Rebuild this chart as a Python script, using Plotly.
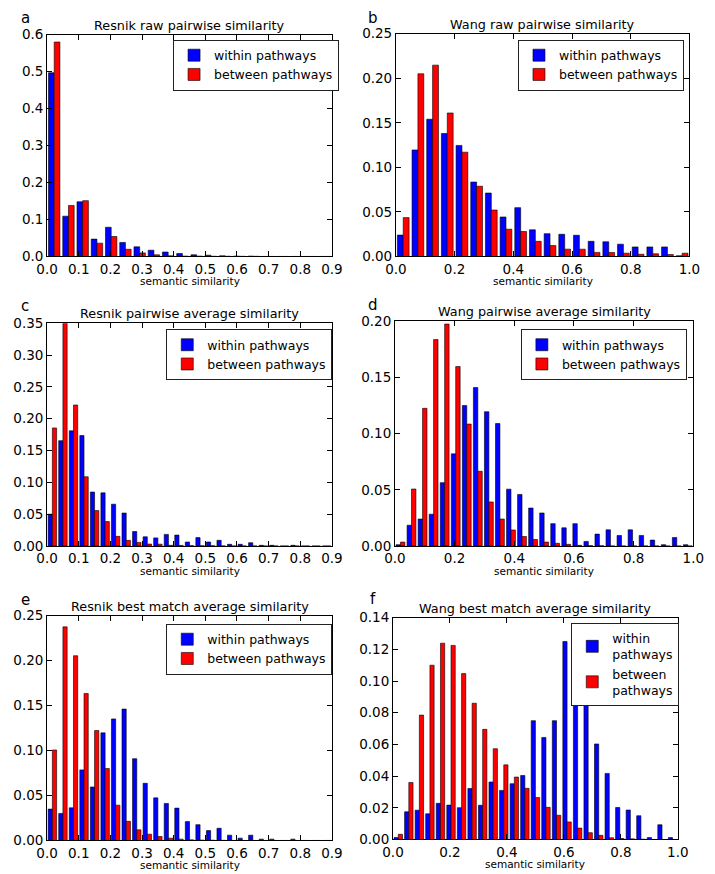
import numpy as np
import plotly.graph_objects as go

# ---------------- data ----------------
# a: Resnik raw pairwise similarity (20 bins, 0-0.9)
a_within = [0.497, 0.109, 0.148, 0.047, 0.079, 0.038, 0.026, 0.017, 0.012, 0.008,
            0.0045, 0.0035, 0.0018, 0.0009, 0.0009, 0, 0, 0, 0, 0]
a_between = [0.580, 0.138, 0.151, 0.036, 0.054, 0.0195, 0.0097, 0.0044, 0.0018, 0.0009,
             0.0009, 0.0005, 0.0005, 0.0004, 0.0003, 0, 0, 0, 0, 0]

# b: Wang raw pairwise similarity (20 bins, 0-1)
b_within = [0.024, 0.1195, 0.154, 0.138, 0.1246, 0.0835, 0.0712, 0.0443, 0.0548, 0.0299,
            0.0256, 0.0249, 0.0238, 0.017, 0.0165, 0.0138, 0.0107, 0.0107, 0.0107, 0.0008]
b_between = [0.0436, 0.205, 0.2147, 0.161, 0.117, 0.0788, 0.0521, 0.0306, 0.028, 0.017,
             0.0122, 0.0082, 0.0082, 0.0046, 0.0045, 0.0037, 0.0025, 0.003, 0.0022, 0.0037]

# c: Resnik pairwise average similarity (27 bins, 0-0.9)
c_within = [0.050, 0.1655, 0.181, 0.1735, 0.0848, 0.0835, 0.0657, 0.0518, 0.0228, 0.0145,
            0.0128, 0.0183, 0.0172, 0.0063, 0.0132, 0.0063, 0.0090, 0.0027, 0.0027, 0.0052,
            0.0011, 0.0011, 0, 0.0011, 0, 0, 0]
c_between = [0.1855, 0.350, 0.2215, 0.1088, 0.0557, 0.0384, 0.0152, 0.0089, 0.0057, 0.0031,
             0.0029, 0.0011, 0.0009, 0.0005, 0.0004, 0.0003, 0.0002, 0, 0, 0,
             0, 0, 0, 0, 0, 0, 0]

# d: Wang pairwise average similarity (27 bins, 0-1)
d_within = [0.0012, 0.0185, 0.024, 0.0283, 0.0564, 0.082, 0.125, 0.141, 0.1195, 0.109,
            0.0506, 0.0459, 0.0338, 0.0294, 0.0199, 0.0162, 0.0199, 0.0041, 0.0106, 0.0144,
            0.0094, 0.0144, 0.0094, 0.0053, 0.0012, 0.0076, 0.0012]
d_between = [0.0035, 0.0507, 0.1225, 0.1837, 0.1975, 0.1597, 0.1085, 0.0665, 0.0392, 0.0240,
             0.0143, 0.0085, 0.0058, 0.0035, 0.0024, 0.0015, 0.0006, 0.0003, 0.0002, 0,
             0, 0, 0, 0, 0, 0, 0]

# e: Resnik best match average similarity (27 bins, 0-0.9)
e_within = [0.0349, 0.0301, 0.0363, 0.0785, 0.0595, 0.1197, 0.1352, 0.1462, 0.091, 0.0636,
            0.0474, 0.0412, 0.036, 0.021, 0.0176, 0.011, 0.0136, 0.0059, 0.0026, 0.0059,
            0.0015, 0.0015, 0, 0.0015, 0, 0, 0]
e_between = [0.1007, 0.2376, 0.2055, 0.1635, 0.1223, 0.0800, 0.0393, 0.0213, 0.0118, 0.0070,
             0.0044, 0.0026, 0.0015, 0.0007, 0.0004, 0.0003, 0.0002, 0, 0, 0,
             0, 0, 0, 0, 0, 0, 0]

# f: Wang best match average similarity (27 bins, 0-1)
f_within = [0.0012, 0.0175, 0.0185, 0.0162, 0.0228, 0.0217, 0.0201, 0.0322, 0.0216, 0.0363,
            0.0310, 0.0352, 0.0404, 0.0750, 0.0644, 0.0750, 0.1250, 0.0887, 0.0899, 0.0603,
            0.0417, 0.0202, 0.0186, 0.0150, 0.0012, 0.0093, 0.0012]
f_between = [0.0033, 0.0360, 0.0785, 0.1100, 0.1239, 0.1225, 0.1047, 0.0860, 0.0695, 0.0573,
             0.0471, 0.0394, 0.0323, 0.0265, 0.0203, 0.0153, 0.0111, 0.0072, 0.0043, 0.0026,
             0.0011, 0.0006, 0.0004, 0.0002, 0, 0, 0]

titles = ["Resnik raw pairwise similarity", "Wang raw pairwise similarity",
          "Resnik pairwise average similarity", "Wang pairwise average similarity",
          "Resnik best match average similarity", "Wang best match average similarity"]
letters = ["a", "b", "c", "d", "e", "f"]
series_names = ["within pathways", "between pathways"]
series_names_wrapped = ["within<br>pathways", "between<br>pathways"]
xlabel = "semantic similarity"

x_ticks_09 = [0.0, 0.1, 0.2, 0.3, 0.4, 0.5, 0.6, 0.7, 0.8, 0.9]
x_ticks_10 = [0.0, 0.2, 0.4, 0.6, 0.8, 1.0]
y_ticks_a = [0.0, 0.1, 0.2, 0.3, 0.4, 0.5, 0.6]
y_ticks_b = [0.0, 0.05, 0.10, 0.15, 0.20, 0.25]
y_ticks_c = [0.0, 0.05, 0.10, 0.15, 0.20, 0.25, 0.30, 0.35]
y_ticks_d = [0.0, 0.05, 0.10, 0.15, 0.20]
y_ticks_e = [0.0, 0.05, 0.10, 0.15, 0.20, 0.25]
y_ticks_f = [0.0, 0.02, 0.04, 0.06, 0.08, 0.10, 0.12, 0.14]

# page is 715x874, but the browser's default body margin offsets the plot by 8px
OFF = 8
W, H = 715 - OFF, 874 - OFF
FONT = "DejaVu Sans"
TICK_SIZE = 13.5
TITLE_SIZE = 12.8
LEGEND_SIZE = 12.5
XLABEL_SIZE = 10.5


def fx(px):
    return (px - OFF) / W


def fy(py):
    return 1 - (py - OFF) / H


# layout in page-pixel boxes: (left, right, top, bottom)
panels = [
    dict(w=a_within, b=a_between, nb=20, xmax=0.9, xt=x_ticks_09, xf="%.1f", yt=y_ticks_a, yf="%.1f",
         box=(37, 331, 27, 253), leg=(167, 32), names=series_names, letter_pos=(1, 10)),
    dict(w=b_within, b=b_between, nb=20, xmax=1.0, xt=x_ticks_10, xf="%.1f", yt=y_ticks_b, yf="%.2f",
         box=(397, 700, 26, 253), leg=(523, 32), names=series_names, letter_pos=(366, 10)),
    dict(w=c_within, b=c_between, nb=27, xmax=0.9, xt=x_ticks_09, xf="%.1f", yt=y_ticks_c, yf="%.2f",
         box=(37, 331, 321, 548), leg=(160, 327), names=series_names, letter_pos=(1, 303)),
    dict(w=d_within, b=d_between, nb=27, xmax=1.0, xt=x_ticks_10, xf="%.1f", yt=y_ticks_d, yf="%.2f",
         box=(396, 704, 319, 548), leg=(526, 327), names=series_names, letter_pos=(366, 302)),
    dict(w=e_within, b=e_between, nb=27, xmax=0.9, xt=x_ticks_09, xf="%.1f", yt=y_ticks_e, yf="%.2f",
         box=(37, 331, 619, 848), leg=(160, 627), names=series_names, letter_pos=(1, 603)),
    dict(w=f_within, b=f_between, nb=27, xmax=1.0, xt=x_ticks_10, xf="%.1f", yt=y_ticks_f, yf="%.2f",
         box=(394, 688, 621, 847), leg=(578, 626), names=series_names_wrapped, letter_pos=(368, 602)),
]

fig = go.Figure()
annotations = []
layout = {}

for i, p in enumerate(panels):
    n = i + 1
    sx = "" if n == 1 else str(n)
    legname = "legend" if n == 1 else f"legend{n}"
    edges = np.linspace(0, p["xmax"], p["nb"] + 1)
    centers = (edges[:-1] + edges[1:]) / 2
    for vals, color, name in [(p["w"], "#0000ff", p["names"][0]), (p["b"], "#ff0000", p["names"][1])]:
        fig.add_trace(go.Bar(
            x=centers, y=vals, name=name,
            marker=dict(color=color, line=dict(color="black", width=0.6)),
            xaxis="x" + sx, yaxis="y" + sx, legend=legname, showlegend=True,
        ))
    l, r, t, b = p["box"]
    dx = [fx(l), fx(r)]
    dy = [fy(b), fy(t)]
    ax_common = dict(showline=True, linecolor="black", linewidth=1, mirror="ticks",
                     ticks="inside", ticklen=5, tickwidth=1, tickcolor="black",
                     showgrid=False, zeroline=False,
                     tickfont=dict(family=FONT, size=TICK_SIZE, color="black"))
    layout["xaxis" + sx] = dict(domain=dx, range=[0, p["xmax"]], anchor="y" + sx,
                                tickvals=p["xt"], ticktext=[p["xf"] % v for v in p["xt"]],
                                **ax_common)
    layout["yaxis" + sx] = dict(domain=dy, range=[0, p["yt"][-1]], anchor="x" + sx,
                                tickvals=p["yt"], ticktext=[p["yf"] % v for v in p["yt"]],
                                **ax_common)
    lx, ly = p["leg"]
    layout[legname] = dict(x=fx(lx), y=fy(ly), xanchor="left", yanchor="top",
                           xref="paper", yref="paper",
                           bgcolor="white", bordercolor="#222222", borderwidth=1,
                           font=dict(family=FONT, size=LEGEND_SIZE, color="black"),
                           tracegroupgap=0, traceorder="normal")
    # title
    annotations.append(dict(text=titles[i], x=(dx[0] + dx[1]) / 2, y=dy[1], xref="paper", yref="paper",
                            xanchor="center", yanchor="bottom", yshift=0, showarrow=False,
                            font=dict(family=FONT, size=TITLE_SIZE, color="black")))
    # x label
    annotations.append(dict(text=xlabel, x=(dx[0] + dx[1]) / 2, y=dy[0], xref="paper", yref="paper",
                            xanchor="center", yanchor="middle", yshift=-25, showarrow=False,
                            font=dict(family=FONT, size=XLABEL_SIZE, color="black")))
    # panel letter
    px, py = p["letter_pos"]
    annotations.append(dict(text=letters[i], x=max(fx(px), 0), y=fy(py), xref="paper", yref="paper",
                            xanchor="left", yanchor="middle", showarrow=False,
                            font=dict(family=FONT, size=15, color="black")))

fig.update_layout(
    width=W, height=H, margin=dict(l=0, r=0, t=0, b=0),
    paper_bgcolor="white", plot_bgcolor="white",
    barmode="group", bargap=0.2, bargroupgap=0,
    font=dict(family=FONT, color="black"),
    annotations=annotations,
    **layout,
)

fig.write_html("out.html")
